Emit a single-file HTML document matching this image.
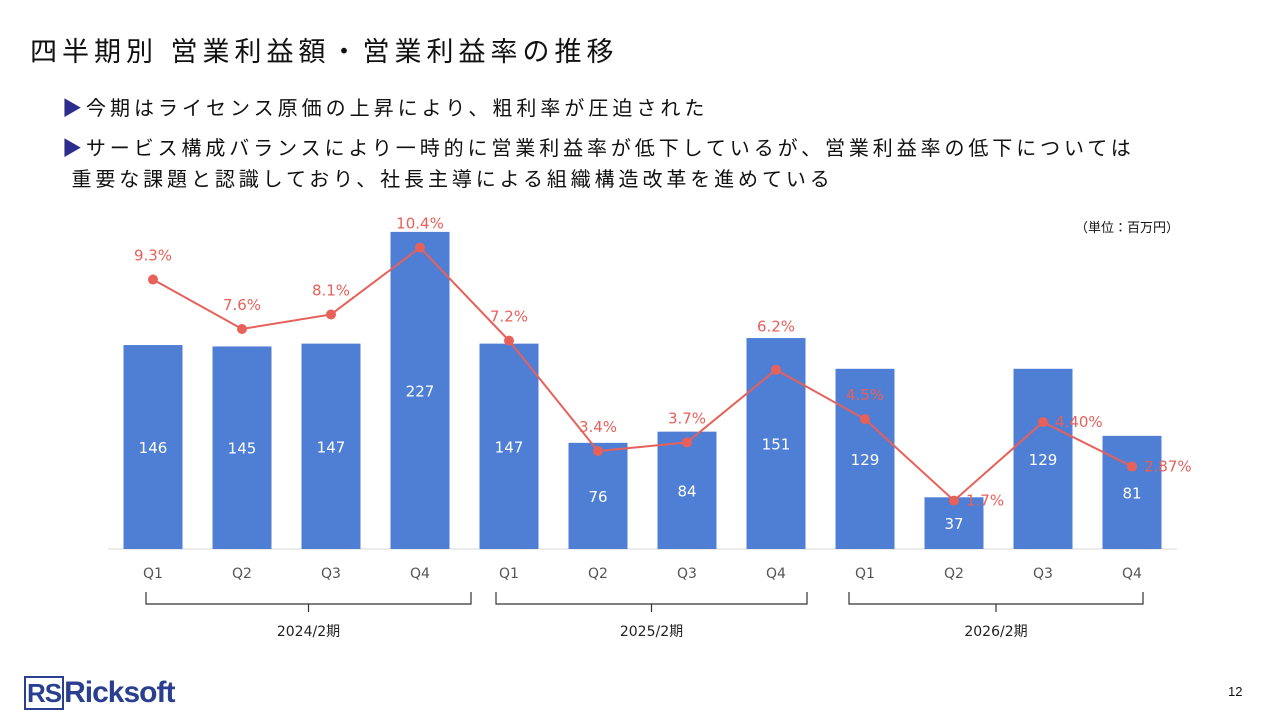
<!DOCTYPE html>
<html><head><meta charset="utf-8"><style>
body{margin:0;width:1280px;height:720px;background:#fff;position:relative;overflow:hidden;font-family:"Liberation Sans","Noto Sans CJK JP",sans-serif;color:#111}
.t{position:absolute;white-space:nowrap}
</style></head><body>
<div class="t" style="left:30px;top:30px;font-size:27px;letter-spacing:5px">四半期別 営業利益額・営業利益率の推移</div>
<div class="t" style="left:62px;top:92px;font-size:20px;letter-spacing:4px"><span style="color:#2c2c8c">▶</span>今期はライセンス原価の上昇により、粗利率が圧迫された</div>
<div class="t" style="left:62px;top:134px;font-size:20px;line-height:31px;letter-spacing:3.9px"><span style="color:#2c2c8c">▶</span>サービス構成バランスにより一時的に営業利益率が低下しているが、営業利益率の低下については<br>&nbsp;重要な課題と認識しており、社長主導による組織構造改革を進めている</div>
<div class="t" style="left:1075px;top:217px;font-size:13px">（単位：百万円）</div>
<svg id="chart" width="1280" height="720" style="position:absolute;left:0;top:0"></svg>
<div class="t" style="left:24px;top:676px;font-size:30px;color:#2a3f8f;font-weight:bold;letter-spacing:-1px"><span style="border:2px solid #2a3f8f;padding:0 1px;font-size:26px">RS</span>Ricksoft</div>
<div class="t" style="left:1228px;top:684px;font-size:13px">12</div>
<script>
const quarters=["Q1","Q2","Q3","Q4","Q1","Q2","Q3","Q4","Q1","Q2","Q3","Q4"];
const profit=[146,145,147,227,147,76,84,151,129,37,129,81];
const rate=[9.3,7.6,8.1,10.4,7.2,3.4,3.7,6.2,4.5,1.7,4.40,2.87];
const rateLabels=["9.3%","7.6%","8.1%","10.4%","7.2%","3.4%","3.7%","6.2%","4.5%","1.7%","4.40%","2.87%"];
const years=["2024/2期","2025/2期","2026/2期"];
const svg=document.getElementById('chart');const NS="http://www.w3.org/2000/svg";
const base=549;
const x=i=>153+i*89;
const yB=v=>base-v*1.397;
const yR=v=>550-v*29.08;
function mk(t,a,p){const e=document.createElementNS(NS,t);for(const k in a)e.setAttribute(k,a[k]);(p||svg).appendChild(e);return e;}
const ax=mk('line',{x1:108,x2:1177,y1:base,y2:base,stroke:'#d9d9d9','stroke-width':1});


profit.forEach((v,i)=>{
 const r=mk('rect',{x:x(i)-29.5,y:yB(v),width:59,height:base-yB(v),fill:'#4f7fd4'});
 
 
 const t=mk('text',{x:x(i),y:(yB(v)+base)/2+6,'text-anchor':'middle',fill:'#fff','font-size':15,'font-family':'DejaVu Sans, sans-serif'});t.textContent=v;
 
 
 const q=mk('text',{x:x(i),y:578,'text-anchor':'middle',fill:'#555','font-size':14,'font-family':'DejaVu Sans, sans-serif'});q.textContent=quarters[i];
 
 
});
const pl=mk('polyline',{points:rate.map((v,i)=>x(i)+','+yR(v)).join(' '),fill:'none',stroke:'#e8605a','stroke-width':2});


const side=[9,10,11];
rate.forEach((v,i)=>{
 const c=mk('circle',{cx:x(i),cy:yR(v),r:5,fill:'#e8605a'});
 
 
 const s=side.includes(i);
 const off=i===7?-38:-19;
 const t=mk('text',{x:s?x(i)+12:x(i),y:s?yR(v)+5:yR(v)+off,'text-anchor':s?'start':'middle',fill:'#e8605a','font-size':15,'font-family':'DejaVu Sans, sans-serif'});t.textContent=rateLabels[i];
 
 
});
const bx=[[146,471],[496,807],[849,1143]];
years.forEach((y,g)=>{
 const x1=bx[g][0],x2=bx[g][1],m=(x1+x2)/2,top=592,bot=604;
 const p=mk('path',{d:`M${x1},${top} L${x1},${bot} L${x2},${bot} L${x2},${top} M${m},${bot} L${m},${bot+8}`,fill:'none',stroke:'#333','stroke-width':1.2});
 
 
 const t=mk('text',{x:m,y:636,'text-anchor':'middle',fill:'#222','font-size':14,'font-family':'DejaVu Sans, Noto Sans CJK JP, sans-serif'});t.textContent=y;
 
 
});
</script>
</body></html>
